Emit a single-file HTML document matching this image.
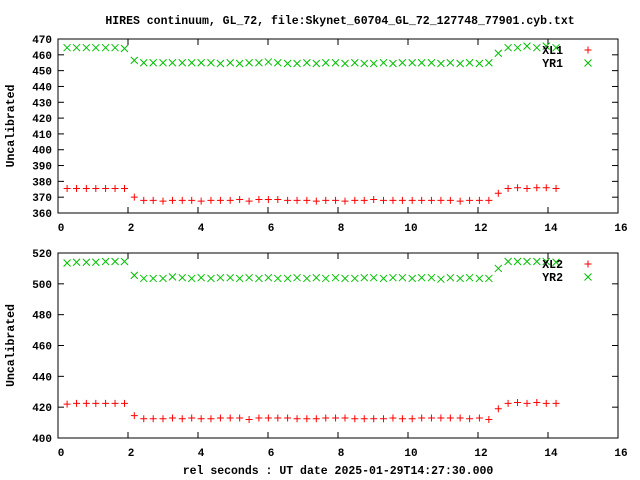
<!DOCTYPE html>
<html><head><meta charset="utf-8"><style>
html,body{margin:0;padding:0;background:#fff;}
svg{display:block;}
text{font-family:"Liberation Mono",monospace;font-weight:bold;font-size:11.5px;fill:#000;}
.tk{font-size:11px;}
</style></head><body>
<svg id="chart" width="640" height="480" viewBox="0 0 640 480" xmlns="http://www.w3.org/2000/svg">
<rect x="0" y="0" width="640" height="480" fill="#fff"/>
<text x="340" y="24" text-anchor="middle">HIRES continuum, GL_72, file:Skynet_60704_GL_72_127748_77901.cyb.txt</text>
<text x="338" y="474" text-anchor="middle">rel seconds : UT date 2025-01-29T14:27:30.000</text>
<g id="plots"></g>
</svg>
<script>
const times = [0.26,0.53,0.81,1.08,1.36,1.63,1.90,2.18,2.45,2.72,3.00,3.27,3.55,3.82,4.09,4.37,4.64,4.92,5.19,5.46,5.74,6.01,6.28,6.56,6.83,7.11,7.38,7.65,7.93,8.20,8.48,8.75,9.02,9.30,9.57,9.84,10.12,10.39,10.67,10.94,11.21,11.49,11.76,12.04,12.31,12.58,12.86,13.13,13.40,13.68,13.95,14.23];
const xl1 = [375.5,375.5,375.5,375.5,375.5,375.5,375.5,370,368,368,367.5,368,368,368,367.5,368,368,368,368.5,367.5,368.5,368.5,368.5,368,368,368,367.5,368,368,367.5,368,368,368.5,368,368,368,368,368,368,368,368,367.5,368,368,368,372.5,375.5,376,375.5,376,376,375.5];
const yr1 = [464.5,464.5,464.5,464.5,464.5,464.5,464,456.5,455,455,455,455,455,455,455,455,454.5,455,454.5,455,455,455.5,455,454.5,454.5,455,454.5,455,455,454.5,455,454.5,454.5,455,454.5,455,455,455,455,454.5,455,454.5,455,454.5,455,461,464.5,464.5,465.5,464.5,465.5,464.5];
const xl2 = [422,422.5,422.5,422.5,422.5,422.5,422.5,414.5,412.5,412.5,412.5,413,412.5,413,412.5,412.5,413,413,413,412,413,413,413,413,412.5,412.5,412.5,413,413,413,412.5,412.5,412.5,412.5,413,412.5,412.5,413,413,413,413,413,412.5,413,412,419,422.5,423,422.5,423,422.5,422.5];
const yr2 = [513.5,514,514,514,514.5,514.5,514.5,505.5,503.5,503.5,503.5,504.5,504,503.5,504,503.5,504,504,503.5,504,503.5,504,503.5,503.5,504,503.5,504,503.5,504,503.5,503.5,504,504,503.5,504,504,503.5,504,504,503,504,503.5,504,503.5,503.5,510,514.5,514.5,514.5,514.5,514.5,514];
const xTicks = [0,2,4,6,8,10,12,14,16];
const yTicks1 = [360,370,380,390,400,410,420,430,440,450,460,470];
const yTicks2 = [400,420,440,460,480,500,520];

const NS = "http://www.w3.org/2000/svg";
const root = document.getElementById('plots');
function el(tag, attrs, parent){const e=document.createElementNS(NS,tag);for(const k in attrs)e.setAttribute(k,attrs[k]);(parent||root).appendChild(e);return e;}

function panel(cfg){
  const L=58, R=618, T=cfg.top, B=cfg.bottom;
  const xs=v=>L+(v-0)/(16-0)*(R-L);
  const ys=v=>B-(v-cfg.ymin)/(cfg.ymax-cfg.ymin)*(B-T);
  const g=el('g',{});
  
  
  const frame=el('rect',{x:L,y:T,width:R-L,height:B-T,fill:'none',stroke:'#000','stroke-width':1},g);
  
  
  cfg.yTicks.forEach(v=>{
    const y=ys(v);
    el('line',{x1:L,y1:y,x2:L+6,y2:y,stroke:'#000'},g);
    el('line',{x1:R,y1:y,x2:R-6,y2:y,stroke:'#000'},g);
    const t=el('text',{x:L-6,y:y+4,'text-anchor':'end','class':'tk'},g);
    t.textContent=v;
    
    
  });
  xTicks.forEach(v=>{
    const x=xs(v);
    el('line',{x1:x,y1:B,x2:x,y2:B-6,stroke:'#000'},g);
    el('line',{x1:x,y1:T,x2:x,y2:T+6,stroke:'#000'},g);
    const t=el('text',{x:x+3,y:B+18,'text-anchor':'middle','class':'tk'},g);
    t.textContent=v;
    
    
  });
  const yl=el('text',{x:0,y:0,'text-anchor':'middle',transform:`translate(14,${(T+B)/2}) rotate(-90)`},g);
  yl.textContent='Uncalibrated';
  
  
  times.forEach((t,i)=>{
    const x=xs(t), y=ys(cfg.xl[i]);
    const p=el('path',{d:`M${x-3.5},${y}h7M${x},${y-3.5}v7`,stroke:'#ff0000','stroke-width':1},g);
    
    
  });
  times.forEach((t,i)=>{
    const x=xs(t), y=ys(cfg.yr[i]);
    const p=el('path',{d:`M${x-3.5},${y-3.5}l7,7M${x-3.5},${y+3.5}l7,-7`,stroke:'#00c000','stroke-width':1},g);
    
    
  });
  const l1=el('text',{x:563,y:T+15,'text-anchor':'end'},g);
  l1.textContent=cfg.l1;
  
  
  el('path',{d:`M${584.5},${T+11}h7M${588},${T+7.5}v7`,stroke:'#ff0000'},g);
  const l2=el('text',{x:563,y:T+28,'text-anchor':'end'},g);
  l2.textContent=cfg.l2;
  
  
  el('path',{d:`M${584.5},${T+20.5}l7,7M${584.5},${T+27.5}l7,-7`,stroke:'#00c000'},g);
}
panel({name:'top-panel',top:39,bottom:213,ymin:360,ymax:470,yTicks:yTicks1,xl:xl1,yr:yr1,l1:'XL1',l2:'YR1'});
panel({name:'bottom-panel',top:253,bottom:438,ymin:400,ymax:520,yTicks:yTicks2,xl:xl2,yr:yr2,l1:'XL2',l2:'YR2'});
</script>
</body></html>
